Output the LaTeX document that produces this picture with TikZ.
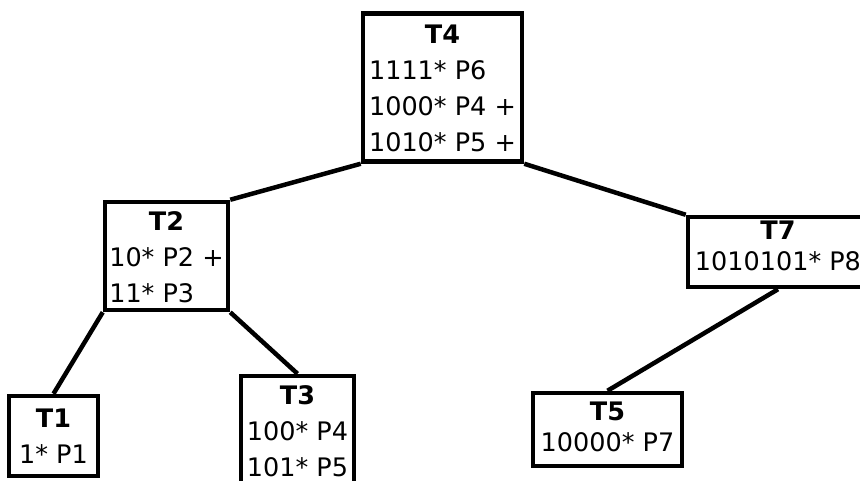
\documentclass[tikz,border=0pt]{standalone}
\usepackage{fontspec}
\setmainfont{DejaVu Sans}
\usepackage{tikz}
\newcommand*{\tablenode}[3][0pt]{%
    \raisebox{-#1}[\height][\depth]{%
    \begin{tabular}{@{}l@{}}\multicolumn{1}{@{}c@{}}{\textbf{#2}}\\#3\end{tabular}}}
\usetikzlibrary{positioning}
\tikzstyle{table} = [
    draw,
    line width=4.5pt,
    rectangle,
    inner sep=0pt,
    font=\fontsize{25.5}{36}\selectfont
]
\tikzstyle{small table} = [table, font=\fontsize{25.5}{31}\selectfont]
\tikzstyle{link} = [line width=4.5pt]

\begin{document}
\begin{tikzpicture}[x=1pt, y=-1pt]
    \useasboundingbox (0, 0) rectangle (860, 481);

    % Nodes.
    \node (t4) [table, minimum width=159, minimum height=148] at (442.5, 87.5)
        {\tablenode[3pt]{T4}{1111* P6\\1000* P4 +\\1010* P5 +}};
    \node (t2) [table, minimum width=123, minimum height=106] at (166.5, 256)
        {\tablenode[3pt]{T2}{10* P2 +\\11* P3}};
    \node (t7) [small table, minimum width=180, minimum height=70] at (778, 252)
        {\tablenode[-3pt]{T7}{1010101* P8}};
    \node (t1) [table, minimum width=89, minimum height=80] at (53.5, 436)
        {\tablenode[2pt]{T1}{1* P1}};
    \node (t3) [table, minimum width=113, minimum height=106] at (297.5, 430)
        {\tablenode[3pt]{T3}{100* P4\\101* P5}};
    \node (t5) [small table, minimum width=149, minimum height=73] at (607.5, 429.5)
        {\tablenode{T5}{10000* P7}};

    % Paths.
    \draw [link] (t4.south west) -- (t2.north east);
    \draw [link] (t4.south east) -- (t7.north west);
    \draw [link] (t2.south west) -- (t1.north);
    \draw [link] (t2.south east) -- (t3.north);
    \draw [link] (t7.south) -- (t5.north);
\end{tikzpicture}
\end{document}
